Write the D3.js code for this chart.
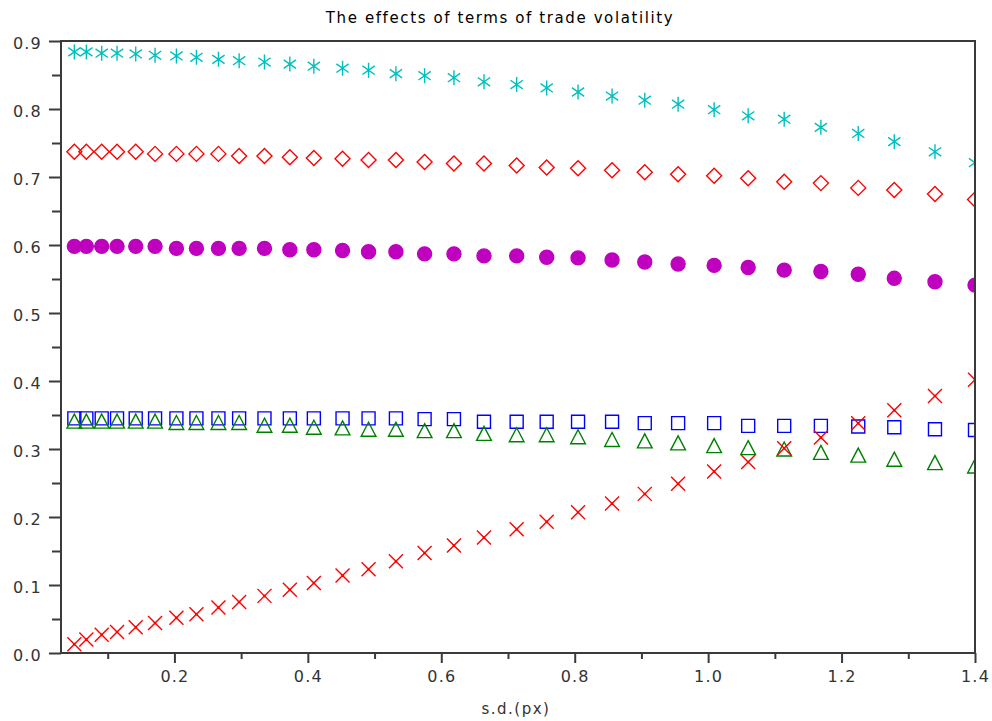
<!DOCTYPE html>
<html>
<head>
<meta charset="utf-8">
<script src="https://cdn.jsdelivr.net/npm/d3@7"></script>
<style>
  body { margin: 0; background: #fff; }
  text { font-family: "DejaVu Sans", sans-serif; }
</style>
</head>
<body>
<script>
// s.d.(px) values
var sdValues = [0.050, 0.068, 0.091, 0.114, 0.142, 0.171, 0.203, 0.233, 0.266, 0.297,
  0.335, 0.373, 0.409, 0.452, 0.491, 0.532, 0.575, 0.619, 0.664, 0.713,
  0.758, 0.805, 0.856, 0.905, 0.955, 1.009, 1.060, 1.114, 1.169, 1.225,
  1.279, 1.340, 1.400];

// series, one value per s.d.
var asteriskSeries = [0.884, 0.884, 0.882, 0.882, 0.881, 0.879, 0.878, 0.876, 0.873, 0.871,
  0.869, 0.866, 0.863, 0.860, 0.857, 0.852, 0.849, 0.846, 0.840, 0.836,
  0.831, 0.825, 0.819, 0.813, 0.807, 0.799, 0.790, 0.785, 0.773, 0.764,
  0.752, 0.737, 0.721];
var diamondSeries = [0.737, 0.737, 0.737, 0.737, 0.737, 0.734, 0.734, 0.734, 0.734, 0.731,
  0.731, 0.729, 0.728, 0.727, 0.725, 0.725, 0.722, 0.720, 0.720, 0.717,
  0.714, 0.713, 0.710, 0.707, 0.704, 0.702, 0.698, 0.693, 0.691, 0.684,
  0.681, 0.675, 0.667];
var circleSeries = [0.598, 0.598, 0.598, 0.598, 0.598, 0.598, 0.595, 0.595, 0.595, 0.595,
  0.595, 0.593, 0.593, 0.592, 0.590, 0.590, 0.587, 0.587, 0.584, 0.584,
  0.582, 0.581, 0.578, 0.575, 0.572, 0.570, 0.567, 0.563, 0.561, 0.557,
  0.551, 0.546, 0.541];
var squareSeries = [0.345, 0.345, 0.345, 0.345, 0.345, 0.345, 0.345, 0.345, 0.345, 0.345,
  0.345, 0.345, 0.345, 0.345, 0.345, 0.345, 0.344, 0.344, 0.340, 0.340,
  0.340, 0.340, 0.340, 0.338, 0.338, 0.338, 0.334, 0.334, 0.334, 0.333,
  0.332, 0.329, 0.328];
var triangleSeries = [0.341, 0.341, 0.341, 0.341, 0.341, 0.341, 0.339, 0.339, 0.339, 0.339,
  0.335, 0.335, 0.332, 0.331, 0.329, 0.329, 0.327, 0.327, 0.323, 0.321,
  0.321, 0.318, 0.314, 0.312, 0.309, 0.305, 0.302, 0.300, 0.295, 0.291,
  0.285, 0.280, 0.275];
var crossSeries = [0.013, 0.020, 0.027, 0.031, 0.038, 0.044, 0.052, 0.057, 0.067, 0.075,
  0.084, 0.093, 0.103, 0.114, 0.123, 0.135, 0.147, 0.158, 0.170, 0.182,
  0.193, 0.207, 0.220, 0.234, 0.249, 0.267, 0.281, 0.301, 0.317, 0.338,
  0.357, 0.378, 0.402];

var xTicks = [0.2, 0.4, 0.6, 0.8, 1.0, 1.2, 1.4];
var xMinorTicks = [0.1, 0.3, 0.5, 0.7, 0.9, 1.1, 1.3];
var yTicks = [0.0, 0.1, 0.2, 0.3, 0.4, 0.5, 0.6, 0.7, 0.8, 0.9];
var yMinorTicks = [0.05, 0.15, 0.25, 0.35, 0.45, 0.55, 0.65, 0.75, 0.85];

var width = 992, height = 721;
var margin = { top: 41, right: 17, bottom: 68, left: 61 };

var svg = d3.select("body").append("svg")
  .attr("width", width)
  .attr("height", height);

var x = d3.scaleLinear().domain([0.03, 1.4]).range([margin.left, width - margin.right]);
var y = d3.scaleLinear().domain([0, 0.9]).range([height - margin.bottom, margin.top]);

// custom marker shapes (size is used as half width)
var star = { draw: function (c, s) {
  var a = 35 * Math.PI / 180;
  c.moveTo(0, -s); c.lineTo(0, s);
  c.moveTo(-s * Math.cos(a), -s * Math.sin(a)); c.lineTo(s * Math.cos(a), s * Math.sin(a));
  c.moveTo(-s * Math.cos(a), s * Math.sin(a)); c.lineTo(s * Math.cos(a), -s * Math.sin(a));
} };
var diamond = { draw: function (c, s) {
  c.moveTo(0, -s); c.lineTo(s, 0); c.lineTo(0, s); c.lineTo(-s, 0); c.closePath();
} };
var square = { draw: function (c, s) { c.rect(-s, -s, 2 * s, 2 * s); } };
var triangle = { draw: function (c, s) {
  c.moveTo(0, -s); c.lineTo(s * 1.05, s); c.lineTo(-s * 1.05, s); c.closePath();
} };
var cross = { draw: function (c, s) {
  c.moveTo(-s, -s); c.lineTo(s, s); c.moveTo(-s, s); c.lineTo(s, -s);
  c.moveTo(0.8, 0); c.arc(0, 0, 0.8, 0, 2 * Math.PI);
} };
var dot = { draw: function (c, s) { c.moveTo(s, 0); c.arc(0, 0, s, 0, 2 * Math.PI); } };

var series = [
  { values: asteriskSeries, type: star, size: 7.5, stroke: "#00bfbf", fill: "none" },
  { values: diamondSeries, type: diamond, size: 7.5, stroke: "#ff0000", fill: "none" },
  { values: circleSeries, type: dot, size: 7, stroke: "#bf00bf", fill: "#bf00bf" },
  { values: squareSeries, type: square, size: 6.5, stroke: "#0000ff", fill: "none" },
  { values: triangleSeries, type: triangle, size: 7, stroke: "#008000", fill: "none" },
  { values: crossSeries, type: cross, size: 7, stroke: "#ff0000", fill: "none" }
];

svg.append("clipPath").attr("id", "plot")
  .append("rect")
  .attr("x", margin.left).attr("y", margin.top)
  .attr("width", width - margin.left - margin.right)
  .attr("height", height - margin.top - margin.bottom);

var marks = svg.append("g").attr("clip-path", "url(#plot)");

series.forEach(function (s) {
  var sym = d3.symbol().type(s.type).size(s.size);
  marks.append("g").selectAll("path")
    .data(sdValues.map(function (d, i) { return [d, s.values[i]]; }))
    .join("path")
    .attr("transform", function (d) { return "translate(" + x(d[0]) + "," + y(d[1]) + ")"; })
    .attr("d", sym)
    .attr("fill", s.fill)
    .attr("stroke", s.stroke)
    .attr("stroke-width", 1.4);
});

// axes
var fmt = d3.format(".1f");
var axisColor = "#3a3a3a";

function styleAxis(g) {
  g.select(".domain").remove();
  g.selectAll("line").attr("stroke", axisColor).attr("stroke-width", 2);
  g.selectAll("text")
    .attr("fill", "#333")
    .style("font-size", "16px")
    .style("letter-spacing", "1.2px");
}

svg.append("g")
  .attr("transform", "translate(0," + y(0) + ")")
  .call(d3.axisBottom(x).tickValues(xTicks).tickSize(10).tickPadding(8).tickFormat(fmt))
  .call(styleAxis);
svg.append("g")
  .attr("transform", "translate(0," + y(0) + ")")
  .call(d3.axisBottom(x).tickValues(xMinorTicks).tickSize(6).tickFormat(""))
  .call(styleAxis);
svg.append("g")
  .attr("transform", "translate(" + x(0.03) + ",0)")
  .call(d3.axisLeft(y).tickValues(yTicks).tickSize(12).tickPadding(7).tickFormat(fmt))
  .call(styleAxis)
  .selectAll("text").attr("dy", "0.45em");
svg.append("g")
  .attr("transform", "translate(" + x(0.03) + ",0)")
  .call(d3.axisLeft(y).tickValues(yMinorTicks).tickSize(9).tickFormat(""))
  .call(styleAxis);

// frame
svg.append("rect")
  .attr("x", x(0.03)).attr("y", y(0.9))
  .attr("width", x(1.4) - x(0.03))
  .attr("height", y(0) - y(0.9))
  .attr("fill", "none")
  .attr("stroke", axisColor)
  .attr("stroke-width", 2);

svg.append("text")
  .attr("x", 500).attr("y", 23)
  .attr("text-anchor", "middle")
  .attr("fill", "#000")
  .style("font-size", "15px")
  .style("letter-spacing", "1.6px")
  .text("The effects of terms of trade volatility");

svg.append("text")
  .attr("x", 516).attr("y", 714)
  .attr("text-anchor", "middle")
  .attr("fill", "#333")
  .style("font-size", "15px")
  .style("letter-spacing", "1.5px")
  .text("s.d.(px)");
</script>
</body>
</html>
